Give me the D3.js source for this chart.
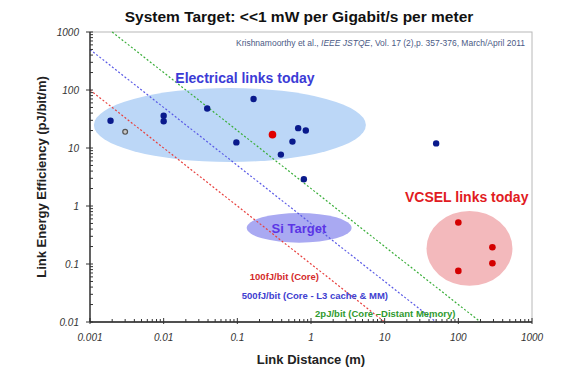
<!DOCTYPE html>
<html>
<head>
<meta charset="utf-8">
<script src="https://cdn.jsdelivr.net/npm/d3@7"></script>
<style>
  body { margin: 0; background: #fff; }
  svg { font-family: "Liberation Sans", Arial, sans-serif; }
</style>
</head>
<body>
<div id="wrapper"></div>
<script>
// electrical links (dark blue dots)
const elecDist = [0.0019, 0.01, 0.01, 0.039, 0.097, 0.166, 0.39, 0.56, 0.67, 0.85, 0.8, 50]
const elecEff = [29.5, 36, 29, 48, 12.5, 70, 7.7, 12.9, 22, 20, 2.9, 12]
// odd ones out
const grayDist = [0.003]
const grayEff = [19]
const redDist = [0.3]
const redEff = [17]
// VCSEL links
const vcselDist = [100, 290, 290, 100]
const vcselEff = [0.52, 0.194, 0.103, 0.076]
// constant energy-per-bit limits (pJ/bit)
const limitEnergy = [0.1, 0.5, 2]
const limitLabels = ["100fJ/bit (Core)", "500fJ/bit (Core - L3 cache & MM)", "2pJ/bit (Core \u2013Distant Memory)"]
const xTicks = [0.001, 0.01, 0.1, 1, 10, 100, 1000]
const yTicks = [0.01, 0.1, 1, 10, 100, 1000]

const width = 577
const height = 386
const margin = {top: 32, right: 45, bottom: 64, left: 90}
const boundedWidth = width - margin.left - margin.right
const boundedHeight = height - margin.top - margin.bottom

const svg = d3.select("#wrapper")
  .append("svg")
    .attr("width", width)
    .attr("height", height)

const bounds = svg.append("g")
  .attr("transform", `translate(${margin.left},${margin.top})`)

const xScale = d3.scaleLog()
  .domain([0.001, 1000])
  .range([0, boundedWidth])

const yScale = d3.scaleLog()
  .domain([0.01, 1000])
  .range([boundedHeight, 0])

// plot frame (light gray top/right)
bounds.append("rect")
  .attr("width", boundedWidth)
  .attr("height", boundedHeight)
  .attr("fill", "none")
  .attr("stroke", "#b8b8b8")
  .attr("stroke-width", 1)

// shaded regions, given by their extents in data units
const regions = [
  {x: [0.00113, 5.56], y: [5.74, 108], fill: "#bcd7f7"},
  {x: [0.134, 3.56], y: [0.233, 0.757], fill: "#a9a9f2"},
  {x: [37, 543], y: [0.042, 0.82], fill: "#f3b9bc"},
]
bounds.selectAll(".region")
  .data(regions)
  .join("ellipse")
    .attr("class", "region")
    .attr("cx", d => (xScale(d.x[0]) + xScale(d.x[1])) / 2)
    .attr("cy", d => (yScale(d.y[0]) + yScale(d.y[1])) / 2)
    .attr("rx", d => (xScale(d.x[1]) - xScale(d.x[0])) / 2)
    .attr("ry", d => (yScale(d.y[0]) - yScale(d.y[1])) / 2)
    .attr("fill", d => d.fill)

// dashed limit lines: E = energy / distance
const limitColors = ["#e8413f", "#5a5ae6", "#3aae3a"]
limitEnergy.forEach((e, i) => {
  const d0 = Math.max(0.001, e / 1000)
  const d1 = Math.min(1000, e / 0.01)
  bounds.append("line")
    .attr("x1", xScale(d0))
    .attr("y1", yScale(e / d0))
    .attr("x2", xScale(d1))
    .attr("y2", yScale(e / d1))
    .attr("stroke", limitColors[i])
    .attr("stroke-width", 1.2)
    .attr("stroke-dasharray", "2,2")
})

// region labels
const labelPos = [
  {text: "Electrical links today", x: 0.127, y: 132, color: "#3b3bd6", size: 14},
  {text: "VCSEL links today", x: 130, y: 1.17, color: "#e11b22", size: 14},
  {text: "Si Target", x: 0.686, y: 0.418, color: "#5b35e6", size: 13, dy: 5},
]
bounds.selectAll(".region-label")
  .data(labelPos)
  .join("text")
    .attr("class", "region-label")
    .attr("x", d => xScale(d.x))
    .attr("y", d => yScale(d.y) + (d.dy || 0))
    .attr("text-anchor", "middle")
    .attr("font-weight", "bold")
    .attr("font-size", d => d.size)
    .attr("fill", d => d.color)
    .text(d => d.text)

// limit labels
const limitLabelX = [0.435, 1.13, 10.2]
const limitLabelY = [0.053, 0.025, 0.0122]
const limitLabelColors = ["#d42a2a", "#4040d0", "#2f9a2f"]
limitLabels.forEach((t, i) => {
  bounds.append("text")
    .attr("x", xScale(limitLabelX[i]))
    .attr("y", yScale(limitLabelY[i]))
    .attr("text-anchor", "middle")
    .attr("font-weight", "bold")
    .attr("font-size", 9.5)
    .attr("fill", limitLabelColors[i])
    .text(t)
})

// points
const toPts = (xs, ys) => xs.map((x, i) => ({x, y: ys[i]}))

bounds.selectAll(".elec")
  .data(toPts(elecDist, elecEff))
  .join("circle")
    .attr("class", "elec")
    .attr("cx", d => xScale(d.x))
    .attr("cy", d => yScale(d.y))
    .attr("r", 3.2)
    .attr("fill", "#0a1a8c")

bounds.selectAll(".gray")
  .data(toPts(grayDist, grayEff))
  .join("circle")
    .attr("class", "gray")
    .attr("cx", d => xScale(d.x))
    .attr("cy", d => yScale(d.y))
    .attr("r", 2.4)
    .attr("fill", "#c8c8c8")
    .attr("stroke", "#555")
    .attr("stroke-width", 1.2)

bounds.selectAll(".red")
  .data(toPts(redDist, redEff))
  .join("circle")
    .attr("class", "red")
    .attr("cx", d => xScale(d.x))
    .attr("cy", d => yScale(d.y))
    .attr("r", 3.8)
    .attr("fill", "#e00000")

bounds.selectAll(".vcsel")
  .data(toPts(vcselDist, vcselEff))
  .join("circle")
    .attr("class", "vcsel")
    .attr("cx", d => xScale(d.x))
    .attr("cy", d => yScale(d.y))
    .attr("r", 3.3)
    .attr("fill", "#d40000")

// axes
const xAxis = bounds.append("g")
  .attr("transform", `translate(0,${boundedHeight})`)
const yAxis = bounds.append("g")

xAxis.append("line")
  .attr("x2", boundedWidth)
  .attr("stroke", "#222")
  .attr("stroke-width", 1.3)
yAxis.append("line")
  .attr("y2", boundedHeight)
  .attr("stroke", "#222")
  .attr("stroke-width", 1.3)

const minor = (domain) => {
  const out = []
  for (let p = Math.log10(domain[0]); p < Math.log10(domain[1]); p++) {
    for (let m = 2; m <= 9; m++) out.push(m * Math.pow(10, p))
  }
  return out
}

xAxis.selectAll(".minor")
  .data(minor(xScale.domain()))
  .join("line")
    .attr("x1", d => xScale(d))
    .attr("x2", d => xScale(d))
    .attr("y1", 0)
    .attr("y2", -3)
    .attr("stroke", "#333")
xAxis.selectAll(".major")
  .data(xTicks)
  .join("line")
    .attr("x1", d => xScale(d))
    .attr("x2", d => xScale(d))
    .attr("y1", 2)
    .attr("y2", -4)
    .attr("stroke", "#333")
xAxis.selectAll(".tick-label")
  .data(xTicks)
  .join("text")
    .attr("x", d => xScale(d))
    .attr("y", 19)
    .attr("text-anchor", "middle")
    .attr("font-style", "italic")
    .attr("font-size", 10)
    .attr("fill", "#333")
    .text(d => d)

yAxis.selectAll(".minor")
  .data(minor(yScale.domain()))
  .join("line")
    .attr("y1", d => yScale(d))
    .attr("y2", d => yScale(d))
    .attr("x1", 0)
    .attr("x2", 3)
    .attr("stroke", "#333")
yAxis.selectAll(".major")
  .data(yTicks)
  .join("line")
    .attr("y1", d => yScale(d))
    .attr("y2", d => yScale(d))
    .attr("x1", -4)
    .attr("x2", 3)
    .attr("stroke", "#333")
yAxis.selectAll(".tick-label")
  .data(yTicks)
  .join("text")
    .attr("x", -11)
    .attr("y", d => yScale(d) + 3.5)
    .attr("text-anchor", "end")
    .attr("font-style", "italic")
    .attr("font-size", 10)
    .attr("fill", "#333")
    .text(d => d)

// axis titles
svg.append("text")
  .attr("x", margin.left + boundedWidth / 2)
  .attr("y", 364)
  .attr("text-anchor", "middle")
  .attr("font-weight", "bold")
  .attr("font-size", 13)
  .attr("fill", "#222")
  .text("Link Distance (m)")

svg.append("text")
  .attr("transform", `translate(46,${margin.top + boundedHeight / 2}) rotate(-90)`)
  .attr("text-anchor", "middle")
  .attr("font-weight", "bold")
  .attr("font-size", 13)
  .attr("fill", "#222")
  .text("Link Energy Efficiency (pJ/bit/m)")

// title
svg.append("text")
  .attr("x", 299)
  .attr("y", 22)
  .attr("text-anchor", "middle")
  .attr("font-weight", "bold")
  .attr("font-size", 15.5)
  .attr("fill", "#111")
  .text("System Target: <<1 mW per Gigabit/s per meter")

// citation
const cite = svg.append("text")
  .attr("x", 525)
  .attr("y", 46)
  .attr("text-anchor", "end")
  .attr("font-family", "'Liberation Sans Narrow', 'Liberation Sans', Arial, sans-serif")
  .attr("font-size", 8.5)
  .attr("fill", "#4b5a85")
cite.append("tspan").text("Krishnamoorthy et al., ")
cite.append("tspan").attr("font-style", "italic").text("IEEE JSTQE")
cite.append("tspan").text(", Vol. 17 (2),p. 357-376, March/April 2011")
</script>
</body>
</html>
